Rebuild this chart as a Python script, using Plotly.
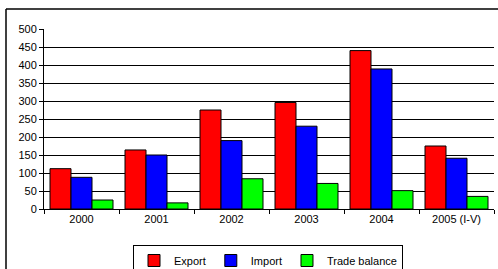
import plotly.graph_objects as go

categories = ["2000", "2001", "2002", "2003", "2004", "2005 (I-V)"]
export = [112, 164, 275, 296, 440, 175]
imports = [88, 150, 190, 230, 389, 141]
trade_balance = [25, 17, 84, 71, 51, 35]
y_ticks = [0, 50, 100, 150, 200, 250, 300, 350, 400, 450, 500]

fig = go.Figure()
for name, vals, col in [("Export", export, "#ff0000"),
                        ("Import", imports, "#0000ff"),
                        ("Trade balance", trade_balance, "#00ff00")]:
    fig.add_trace(go.Bar(x=categories, y=vals, name=name,
                         marker=dict(color=col, line=dict(color="black", width=1))))

W, H = 498, 269
L, R, T, B = 44, 4, 29, 60
pw, ph = W - L - R, H - T - B

def px2x(px):
    return (px - L) / pw

def py2y(py):
    return (H - B - py) / ph

fig.update_layout(
    width=W, height=H,
    margin=dict(l=L, r=R, t=T, b=B, autoexpand=False),
    paper_bgcolor="white", plot_bgcolor="white",
    font=dict(family="Liberation Sans, Arial, sans-serif", size=11, color="black"),
    barmode="group", bargap=0.16, bargroupgap=0,
    showlegend=True,
    legend=dict(orientation="h", x=px2x(268), xanchor="center", y=py2y(245), yanchor="top",
                bordercolor="black", borderwidth=1, bgcolor="white",
                font=dict(size=11), itemwidth=30, tracegroupgap=0),
    xaxis=dict(showline=True, linecolor="black", linewidth=1, ticks="outside",
               tickson="boundaries", ticklen=4, tickcolor="black", showgrid=False),
    yaxis=dict(range=[0, 500], tickvals=y_ticks, showline=True, linecolor="black",
               linewidth=1, ticks="outside", ticklen=4, tickcolor="black",
               showgrid=True, gridcolor="black", gridwidth=1, zeroline=False),
    shapes=[
        dict(type="line", xref="paper", yref="paper", x0=px2x(6), x1=px2x(6),
             y0=py2y(9), y1=py2y(300), line=dict(color="black", width=1.5)),
        dict(type="line", xref="paper", yref="paper", x0=px2x(6), x1=px2x(520),
             y0=py2y(9), y1=py2y(9), line=dict(color="black", width=1.5)),
    ],
)

fig.write_html("out.html", config={"displayModeBar": False},
               post_script="document.body.style.margin='0';document.body.style.overflow='hidden';")
